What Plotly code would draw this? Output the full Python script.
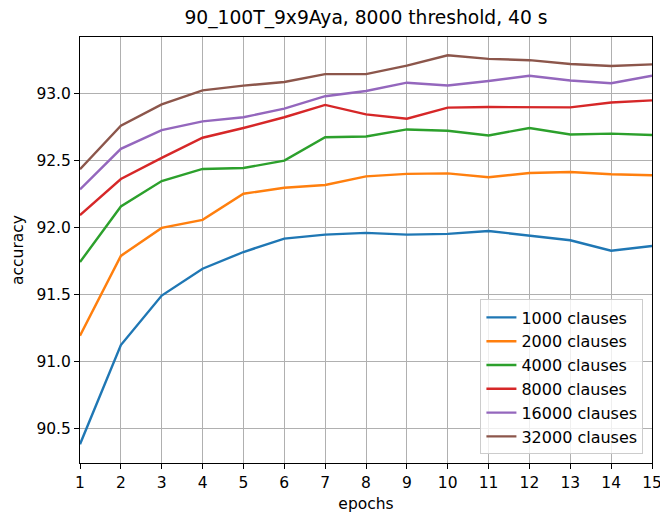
import plotly.graph_objects as go

epochs = list(range(1, 16))
labels = ["1000 clauses", "2000 clauses", "4000 clauses", "8000 clauses", "16000 clauses", "32000 clauses"]
acc_1000 = [90.38, 91.12, 91.49, 91.69, 91.815, 91.915, 91.945, 91.958, 91.945, 91.95, 91.972, 91.94, 91.903, 91.825, 91.86]
acc_2000 = [91.19, 91.786, 91.995, 92.055, 92.25, 92.295, 92.315, 92.38, 92.398, 92.402, 92.373, 92.405, 92.412, 92.396, 92.388]
acc_4000 = [91.74, 92.155, 92.345, 92.435, 92.442, 92.497, 92.672, 92.677, 92.73, 92.72, 92.685, 92.741, 92.692, 92.699, 92.688]
acc_8000 = [92.09, 92.36, 92.518, 92.668, 92.741, 92.821, 92.913, 92.842, 92.81, 92.893, 92.897, 92.897, 92.895, 92.931, 92.947]
acc_16000 = [92.283, 92.585, 92.725, 92.79, 92.821, 92.885, 92.978, 93.017, 93.079, 93.058, 93.092, 93.131, 93.095, 93.075, 93.131]
acc_32000 = [92.433, 92.758, 92.917, 93.022, 93.057, 93.084, 93.143, 93.143, 93.206, 93.284, 93.257, 93.247, 93.219, 93.204, 93.216]
series = [acc_1000, acc_2000, acc_4000, acc_8000, acc_16000, acc_32000]
colors = ["#1f77b4", "#ff7f0e", "#2ca02c", "#d62728", "#9467bd", "#8c564b"]

fig = go.Figure()
for lab, vals, c in zip(labels, series, colors):
    fig.add_trace(go.Scatter(x=epochs, y=vals, mode="lines", name=lab,
                             line=dict(color=c, width=2.4)))

axis_common = dict(showline=True, linecolor="black", linewidth=1, mirror=True,
                   showgrid=True, gridcolor="#b0b0b0", gridwidth=1,
                   ticks="outside", ticklen=5, tickcolor="black", tickwidth=1,
                   zeroline=False, tickfont=dict(size=15.5, color="black"),
                   ticklabeloverflow="allow", automargin=False)

fig.update_layout(
    width=660, height=516,
    margin=dict(l=80, r=8, t=37, b=53),
    paper_bgcolor="white", plot_bgcolor="white",
    font=dict(family="DejaVu Sans", size=15.5, color="black"),
    title=dict(text="90_100T_9x9Aya, 8000 threshold, 40 s", x=(80 + 652) / 2 / 660,
               xanchor="center", y=1 - 17 / 516, yanchor="middle",
               font=dict(size=18.7, color="black")),
    xaxis=dict(range=[1, 15], dtick=1, tick0=1,
               title=dict(text="epochs", font=dict(size=15.5), standoff=7), **axis_common),
    yaxis=dict(range=[90.24, 93.42], tickvals=[90.5, 91.0, 91.5, 92.0, 92.5, 93.0],
               tickformat=".1f",
               title=dict(text="accuracy", font=dict(size=15.5), standoff=8), **axis_common),
    legend=dict(x=0.985, y=0.02, xanchor="right", yanchor="bottom",
                bgcolor="rgba(255,255,255,0.8)", bordercolor="#cccccc", borderwidth=1,
                font=dict(size=16, color="black"), tracegroupgap=0, itemwidth=30),
    showlegend=True,
)

fig.write_html("out.html")
